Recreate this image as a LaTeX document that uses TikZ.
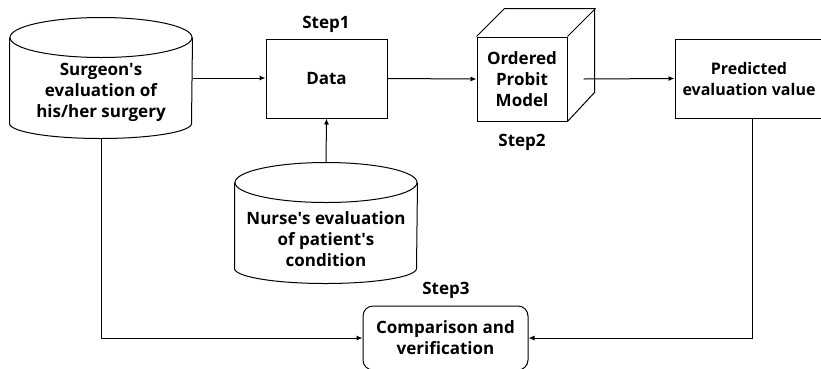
\documentclass[tikz,border=0pt]{standalone}
\usepackage{fontspec}
\setmainfont{Open Sans}
\usetikzlibrary{arrows.meta}

% cylinder drawn round an empty named node
\newcommand{\drawcyl}[1]{%
  \draw ([yshift=-20pt]#1.north) ellipse (91pt and 20pt);
  \draw ([yshift=-20pt]#1.north west) -- ([yshift=15pt]#1.south west)
    arc (180:360:91pt and 15pt) -- ([yshift=-20pt]#1.north east);
}

\begin{document}
\begin{tikzpicture}[x=1pt,y=-1pt,line width=1pt,
    every node/.style={font=\bfseries\fontsize{17}{21}\selectfont,align=center,inner sep=0pt},
    box/.style={draw,rectangle},
    hole/.style={rectangle,minimum width=182,minimum height=120},
    arr/.style={-{Latex[length=6pt,width=5pt]}}]
      \useasboundingbox (0,0) rectangle (821,368);

      \node[hole] (surg) at (101,78) {};
      \drawcyl{surg}
      \node (surgtxt) at (101,92) {Surgeon\textquotesingle s\\evaluation of\\his/her surgery};

      \node[hole] (nurse) at (326,223) {};
      \drawcyl{nurse}
      \node (nursetxt) at (326,239) {Nurse\textquotesingle s evaluation\\of patient\textquotesingle s\\condition};

      \node[box,minimum width=121,minimum height=79] (data) at (326.5,78.5) {Data};
      \path (326,24) node (step1) {Step1};

      \node[box,minimum width=90,minimum height=84] (model) at (522,79) {Ordered\\Probit\\Model};
      \draw (model.north west) -- ++(28,-28) -- ++(90,0) -- ++(0,84) -- (model.south east);
      \draw (model.north east) -- ++(28,-28);
      \path (522,142) node (step2) {Step2};

      \node[box,minimum width=154,minimum height=79] (pred) at (752,78.5) {};
      \node[font=\bfseries\fontsize{16}{21}\selectfont] (predtxt) at (749,78.5) {Predicted\\evaluation value};

      \node[box,rounded corners=10pt,minimum width=165,minimum height=64] (comp) at (445.5,338) {Comparison and\\verification};
      \path (446,290) node (step3) {Step3};

      \draw[arr] (surg.east) -- (surg.east -| data.west);
      \draw[arr] (nurse.north) -- (data.south);
      \draw[arr] (data.east) -- (model.west);
      \draw[arr] ([xshift=16pt]model.east) -- (pred.west);
      \draw[arr] (surg.south) |- (comp.west);
      \draw[arr] (pred.south) |- (comp.east);
    \end{tikzpicture}
\end{document}
